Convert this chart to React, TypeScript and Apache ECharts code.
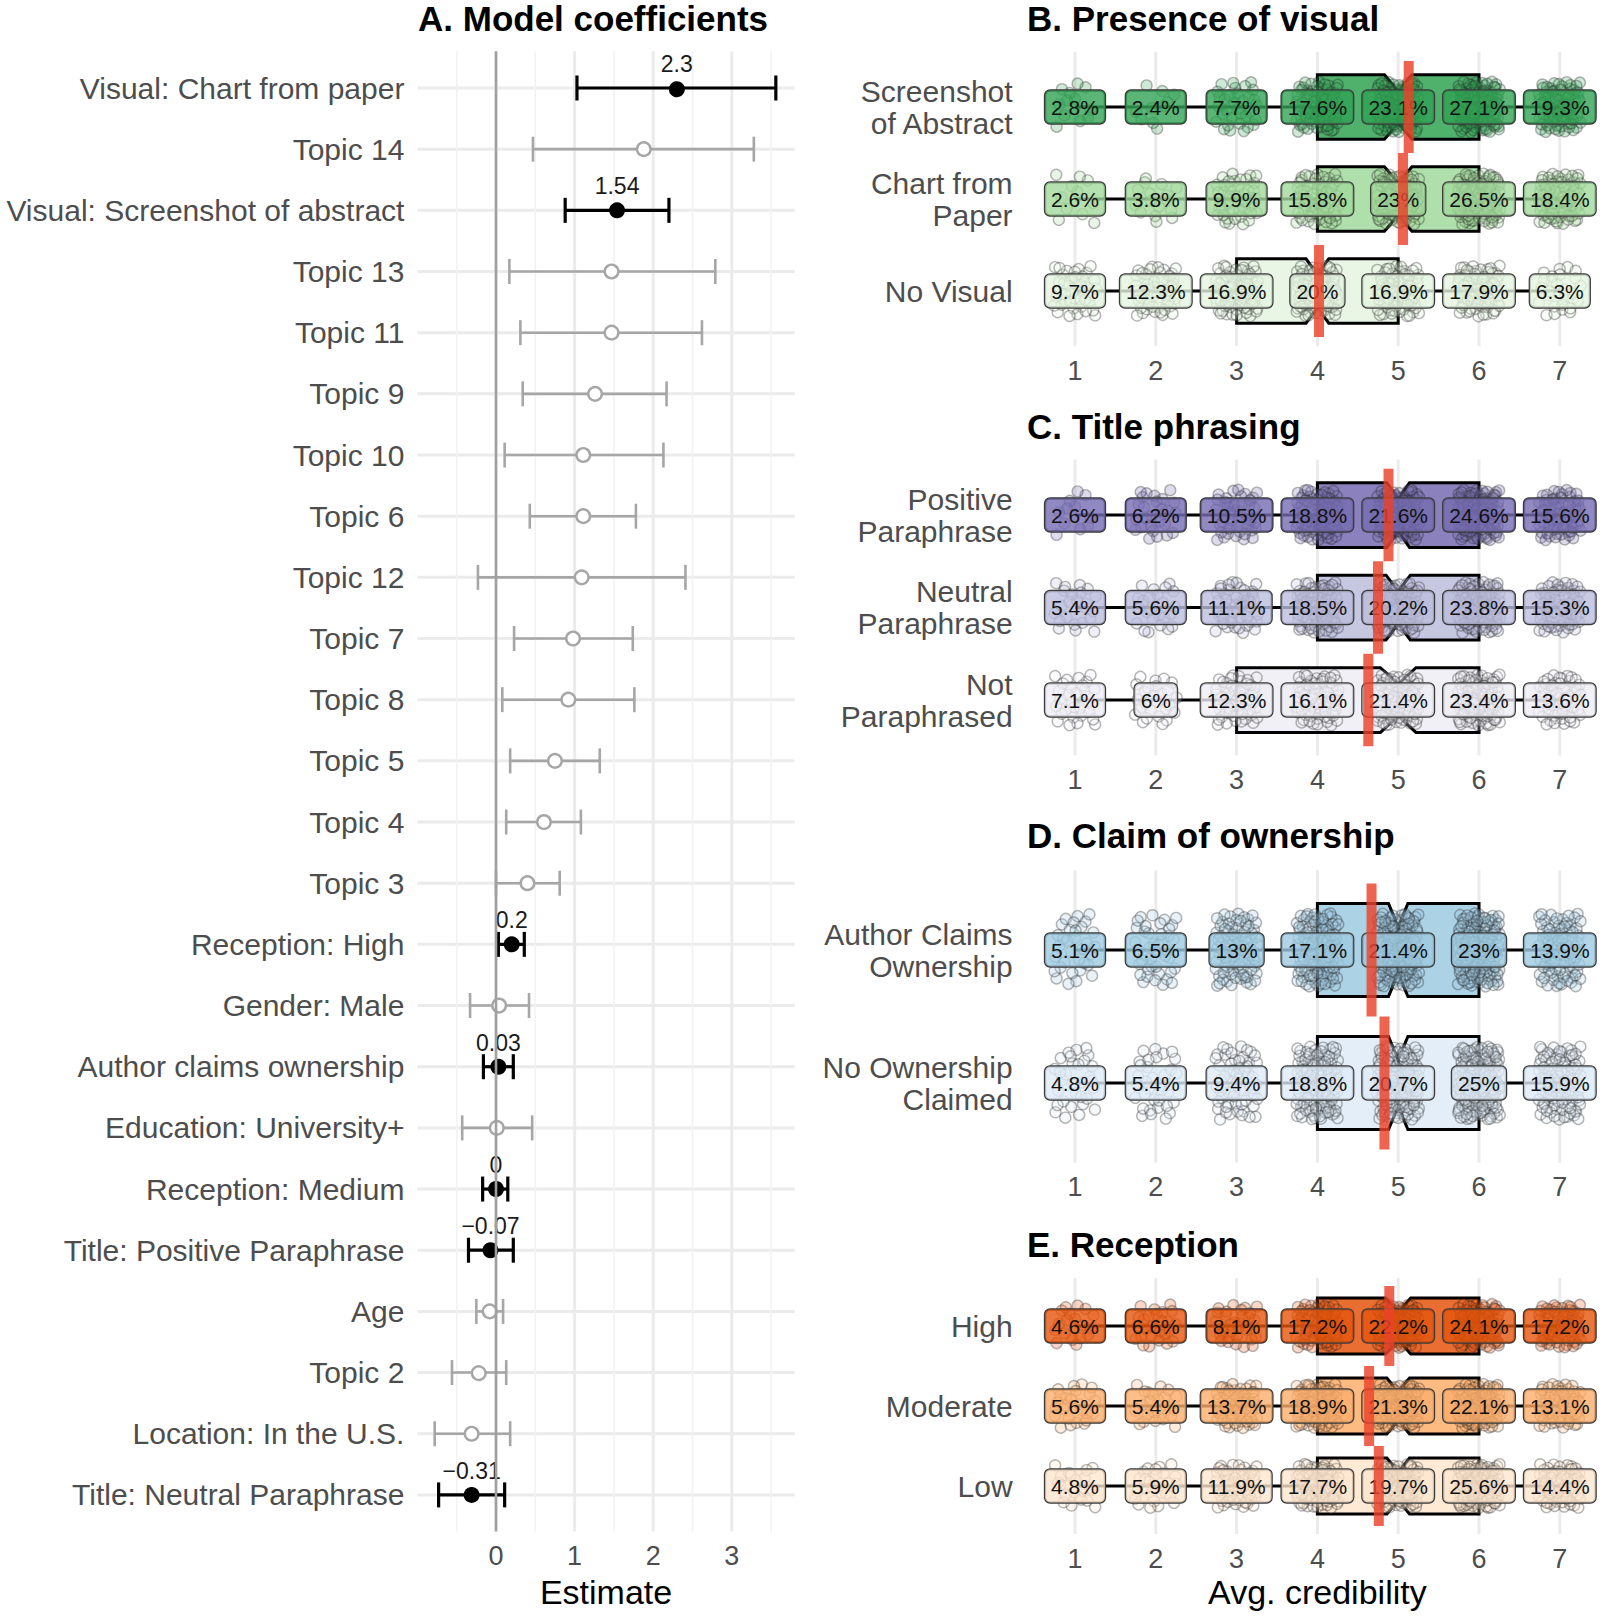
import React, { useEffect, useRef } from 'react';
import * as echarts from 'echarts';

const FONT = "'Liberation Sans', Arial, Helvetica, sans-serif";

// ---------- Panel A: model coefficients ----------
const coefLabels = [
  'Visual: Chart from paper', 'Topic 14', 'Visual: Screenshot of abstract', 'Topic 13', 'Topic 11',
  'Topic 9', 'Topic 10', 'Topic 6', 'Topic 12', 'Topic 7', 'Topic 8', 'Topic 5', 'Topic 4', 'Topic 3',
  'Reception: High', 'Gender: Male', 'Author claims ownership', 'Education: University+',
  'Reception: Medium', 'Title: Positive Paraphrase', 'Age', 'Topic 2', 'Location: In the U.S.',
  'Title: Neutral Paraphrase',
];
const coefEst = [2.3, 1.88, 1.54, 1.47, 1.47, 1.26, 1.11, 1.11, 1.09, 0.98, 0.92, 0.75, 0.61, 0.4, 0.2, 0.04, 0.03, 0.01, 0, -0.07, -0.08, -0.22, -0.31, -0.31];
const coefLow = [1.03, 0.47, 0.88, 0.17, 0.31, 0.34, 0.11, 0.43, -0.23, 0.23, 0.08, 0.18, 0.13, 0.0, 0.03, -0.33, -0.16, -0.43, -0.17, -0.35, -0.25, -0.56, -0.78, -0.73];
const coefHigh = [3.56, 3.28, 2.2, 2.79, 2.62, 2.17, 2.13, 1.78, 2.41, 1.74, 1.76, 1.32, 1.08, 0.81, 0.36, 0.42, 0.22, 0.46, 0.15, 0.22, 0.09, 0.13, 0.18, 0.11];
const coefValueText = ['2.3', '', '1.54', '', '', '', '', '', '', '', '', '', '', '', '0.2', '', '0.03', '', '0', '\u22120.07', '', '', '', '\u22120.31'];
const estMajorTicks = [0, 1, 2, 3];
const estMinorTicks = [-0.5, 0.5, 1.5, 2.5, 3.5];

// ---------- Right panels ----------
const credLevels = [1, 2, 3, 4, 5, 6, 7];
const whiskerLo = 1;
const whiskerHi = 7;

const visualGroups = ['Screenshot\nof Abstract', 'Chart from\nPaper', 'No Visual'];
const visualPct = [
  [2.8, 2.4, 7.7, 17.6, 23.1, 27.1, 19.3],
  [2.6, 3.8, 9.9, 15.8, 23, 26.5, 18.4],
  [9.7, 12.3, 16.9, 20, 16.9, 17.9, 6.3],
];
const visualQ1 = [4, 4, 3];
const visualMedian = [5, 5, 4];
const visualQ3 = [6, 6, 5];
const visualNotch = [0.17, 0.17, 0.14];
const visualMean = [5.13, 5.06, 4.02];
const visualN = [430, 430, 430];
const visualColors = ['#31a354', '#a1d99b', '#e5f5e0'];

const titleGroups = ['Positive\nParaphrase', 'Neutral\nParaphrase', 'Not\nParaphrased'];
const titlePct = [
  [2.6, 6.2, 10.5, 18.8, 21.6, 24.6, 15.6],
  [5.4, 5.6, 11.1, 18.5, 20.2, 23.8, 15.3],
  [7.1, 6, 12.3, 16.1, 21.4, 23.4, 13.6],
];
const titleQ1 = [4, 4, 3];
const titleMedian = [5, 5, 5];
const titleQ3 = [6, 6, 6];
const titleNotch = [0.14, 0.15, 0.22];
const titleMean = [4.88, 4.75, 4.63];
const titleN = [430, 430, 430];
const titleColors = ['#756bb1', '#bcbddc', '#efedf5'];

const ownGroups = ['Author Claims\nOwnership', 'No Ownership\nClaimed'];
const ownPct = [
  [5.1, 6.5, 13, 17.1, 21.4, 23, 13.9],
  [4.8, 5.4, 9.4, 18.8, 20.7, 25, 15.9],
];
const ownQ1 = [4, 4];
const ownMedian = [5, 5];
const ownQ3 = [6, 6];
const ownNotch = [0.12, 0.12];
const ownMean = [4.67, 4.83];
const ownN = [650, 650];
const ownColors = ['#9ecae1', '#deebf7'];

const recGroups = ['High', 'Moderate', 'Low'];
const recPct = [
  [4.6, 6.6, 8.1, 17.2, 22.2, 24.1, 17.2],
  [5.6, 5.4, 13.7, 18.9, 21.3, 22.1, 13.1],
  [4.8, 5.9, 11.9, 17.7, 19.7, 25.6, 14.4],
];
const recQ1 = [4, 4, 4];
const recMedian = [5, 5, 5];
const recQ3 = [6, 6, 6];
const recNotch = [0.155, 0.14, 0.14];
const recMean = [4.89, 4.64, 4.76];
const recN = [400, 450, 450];
const recColors = ['#e6550d', '#fdae6b', '#fee6ce'];

const panels = [
  { title: 'B. Presence of visual', titleY: 18, groups: visualGroups, pct: visualPct, q1: visualQ1, med: visualMedian, q3: visualQ3, notch: visualNotch, mean: visualMean, n: visualN, colors: visualColors, top: 51.8, step: 92 },
  { title: 'C. Title phrasing', titleY: 426, groups: titleGroups, pct: titlePct, q1: titleQ1, med: titleMedian, q3: titleQ3, notch: titleNotch, mean: titleMean, n: titleN, colors: titleColors, top: 459.5, step: 92.5 },
  { title: 'D. Claim of ownership', titleY: 835, groups: ownGroups, pct: ownPct, q1: ownQ1, med: ownMedian, q3: ownQ3, notch: ownNotch, mean: ownMean, n: ownN, colors: ownColors, top: 870.2, step: 133 },
  { title: 'E. Reception', titleY: 1244, groups: recGroups, pct: recPct, q1: recQ1, med: recMedian, q3: recQ3, notch: recNotch, mean: recMean, n: recN, colors: recColors, top: 1278, step: 80 },
];

const rgba = (hex: string, a: number) => {
  const n = parseInt(hex.slice(1), 16);
  return `rgba(${(n >> 16) & 255},${(n >> 8) & 255},${n & 255},${a})`;
};

const halton = (i: number, b: number) => {
  let f = 1, r = 0;
  while (i > 0) { f /= b; r += f * (i % b); i = Math.floor(i / b); }
  return r;
};

const isInt = (v: number) => Math.abs(v - Math.round(v)) < 1e-6;

function buildPoints(pn: any) {
  const pts: number[][] = [];
  let idx = 1;
  pn.pct.forEach((row: number[], g: number) => {
    row.forEach((p: number, k: number) => {
      const c = Math.round((p / 100) * pn.n[g]);
      for (let j = 0; j < c; j++) {
        pts.push([credLevels[k] + (halton(idx, 2) - 0.5) * 0.52, g + 1 + (halton(idx, 3) - 0.5) * 0.55, g]);
        idx++;
      }
    });
  });
  return pts;
}

function panelSeries(pn: any, gi: number) {
  const nG = pn.groups.length;
  const ymax = nG + 0.6;
  const base = { type: 'custom', coordinateSystem: 'cartesian2d', xAxisIndex: gi, yAxisIndex: gi, silent: true };
  const vgrid = {
    ...base, z: 1,
    data: credLevels.map((v) => [v, 1]),
    renderItem: (params: any, api: any) => {
      const v = credLevels[params.dataIndex];
      const a = api.coord([v, 0.4]);
      const b = api.coord([v, ymax]);
      return { type: 'line', shape: { x1: a[0], y1: a[1], x2: b[0], y2: b[1] }, style: { stroke: '#ebebeb', lineWidth: 3 } };
    },
  };
  const boxes = {
    ...base, z: 2,
    data: pn.groups.map((_: string, g: number) => [pn.med[g], g + 1]),
    renderItem: (params: any, api: any) => {
      const g = params.dataIndex;
      const yc = g + 1;
      const X = (v: number) => api.coord([v, yc])[0];
      const cy = api.coord([pn.med[g], yc])[1];
      const step = Math.abs(api.coord([1, yc + 0.5])[1] - api.coord([1, yc - 0.5])[1]);
      const half = step * 0.35;
      const ind = half * 0.5;
      const top = cy - half, bot = cy + half;
      const lo = X(pn.med[g] - pn.notch[g]), hi = X(pn.med[g] + pn.notch[g]), m = X(pn.med[g]);
      const x1 = X(pn.q1[g]), x3 = X(pn.q3[g]);
      return {
        type: 'group',
        children: [
          { type: 'line', shape: { x1: X(whiskerLo), y1: cy, x2: x1, y2: cy }, style: { stroke: '#000', lineWidth: 3 } },
          { type: 'line', shape: { x1: x3, y1: cy, x2: X(whiskerHi), y2: cy }, style: { stroke: '#000', lineWidth: 3 } },
          {
            type: 'polygon',
            shape: { points: [[x1, top], [lo, top], [m, top + ind], [hi, top], [x3, top], [x3, bot], [hi, bot], [m, bot - ind], [lo, bot], [x1, bot]] },
            style: { fill: rgba(pn.colors[g], 0.85), stroke: '#000', lineWidth: 3 },
          },
          { type: 'line', shape: { x1: m, y1: top + ind, x2: m, y2: bot - ind }, style: { stroke: '#000', lineWidth: 3 } },
        ],
      };
    },
  };
  const points = {
    type: 'scatter', xAxisIndex: gi, yAxisIndex: gi, silent: true, large: false, z: 3,
    symbol: 'circle', symbolSize: 11,
    data: buildPoints(pn),
    itemStyle: {
      color: (prm: any) => rgba(pn.colors[prm.value[2]], 0.3),
      borderColor: 'rgba(40,40,40,0.42)',
      borderWidth: 1.4,
    },
  };
  const labelData: number[][] = [];
  pn.pct.forEach((row: number[], g: number) => row.forEach((_: number, k: number) => labelData.push([credLevels[k], g + 1])));
  const labels = {
    ...base, z: 4,
    data: labelData,
    renderItem: (params: any, api: any) => {
      const d = labelData[params.dataIndex];
      const g = d[1] - 1;
      const k = d[0] - 1;
      const p = api.coord(d);
      return {
        type: 'text', x: p[0], y: p[1],
        style: {
          text: `${pn.pct[g][k]}%`, font: `21px ${FONT}`, fill: '#111', align: 'center', verticalAlign: 'middle',
          backgroundColor: rgba(pn.colors[g], 0.8), borderColor: '#3a3a3a', borderWidth: 1.2, borderRadius: 5,
          padding: [5, 6, 5, 6], lineHeight: 23,
        },
      };
    },
  };
  const means = {
    ...base, z: 5,
    data: pn.mean.map((m: number, g: number) => [m, g + 1]),
    renderItem: (params: any, api: any) => {
      const g = params.dataIndex;
      const c = api.coord([pn.mean[g], g + 1]);
      const h = Math.abs(api.coord([1, g + 1.5])[1] - api.coord([1, g + 0.5])[1]);
      return { type: 'rect', shape: { x: c[0] - 5, y: c[1] - h / 2, width: 10, height: h }, style: { fill: 'rgba(236,66,42,0.82)' } };
    },
  };
  return [vgrid, boxes, points, labels, means];
}

function buildOption() {
  const A_LEFT = 417.4, A_W = 377.3, A_TOP = 51.3, A_H = 1480.3;
  const R_LEFT = 1034.6, R_W = 565.6;
  const grids: any[] = [{ left: A_LEFT, top: A_TOP, width: A_W, height: A_H, outerBoundsMode: 'none' }];
  panels.forEach((pn) => grids.push({ left: R_LEFT, top: pn.top, width: R_W, height: pn.step * (pn.groups.length + 0.2), outerBoundsMode: 'none' }));

  const noLines = { axisLine: { show: false }, axisTick: { show: false }, splitLine: { show: false } };
  const xAxes: any[] = [{
    gridIndex: 0, type: 'value', min: -1, max: 3.8, interval: 1, ...noLines,
    axisLabel: { formatter: (v: number) => (isInt(v) && v >= 0 && v <= 3 ? String(Math.round(v)) : ''), fontSize: 27, color: '#4d4d4d', margin: 11, fontFamily: FONT },
    name: 'Estimate', nameLocation: 'middle', nameGap: 43, nameTextStyle: { fontSize: 34, color: '#000', fontFamily: FONT },
  }];
  const yAxes: any[] = [{
    gridIndex: 0, type: 'value', inverse: true, min: 0.4, max: 24.6, interval: 0.2, ...noLines,
    axisLabel: {
      formatter: (v: number) => { const i = Math.round(v); return isInt(v) && i >= 1 && i <= coefLabels.length ? coefLabels[i - 1] : ''; },
      fontSize: 30, color: '#4d4d4d', margin: 13, fontFamily: FONT,
    },
  }];
  panels.forEach((pn, p) => {
    const last = p === panels.length - 1;
    xAxes.push({
      gridIndex: p + 1, type: 'value', min: 0.5, max: 7.5, interval: 0.5, ...noLines,
      axisLabel: { formatter: (v: number) => (isInt(v) && v >= 1 && v <= 7 ? String(Math.round(v)) : ''), fontSize: 27, color: '#4d4d4d', margin: 11, fontFamily: FONT },
      ...(last ? { name: 'Avg. credibility', nameLocation: 'middle', nameGap: 41, nameTextStyle: { fontSize: 34, color: '#000', fontFamily: FONT } } : {}),
    });
    yAxes.push({
      gridIndex: p + 1, type: 'value', inverse: true, min: 0.4, max: pn.groups.length + 0.6, interval: 0.2, ...noLines,
      axisLabel: {
        formatter: (v: number) => { const i = Math.round(v); return isInt(v) && i >= 1 && i <= pn.groups.length ? pn.groups[i - 1] : ''; },
        fontSize: 30, color: '#4d4d4d', margin: 22, lineHeight: 32, fontFamily: FONT,
      },
    });
  });

  const aBase = { type: 'custom', coordinateSystem: 'cartesian2d', xAxisIndex: 0, yAxisIndex: 0, silent: true };
  const aHGrid = {
    ...aBase, z: 1,
    data: coefLabels.map((_, i) => [0, i + 1]),
    renderItem: (params: any, api: any) => {
      const y = params.dataIndex + 1;
      const a = api.coord([-1, y]);
      const b = api.coord([3.8, y]);
      return { type: 'line', shape: { x1: a[0], y1: a[1], x2: b[0], y2: b[1] }, style: { stroke: '#ebebeb', lineWidth: 3 } };
    },
  };
  const aTicks = [...estMajorTicks, ...estMinorTicks];
  const aVGrid = {
    ...aBase, z: 1,
    data: aTicks.map((v) => [v, 1]),
    renderItem: (params: any, api: any) => {
      const v = aTicks[params.dataIndex];
      const a = api.coord([v, 0.4]);
      const b = api.coord([v, 24.6]);
      const major = isInt(v);
      return { type: 'line', shape: { x1: a[0], y1: a[1], x2: b[0], y2: b[1] }, style: { stroke: major ? '#ebebeb' : '#f2f2f2', lineWidth: major ? 3 : 1.6 } };
    },
  };
  const aBars = {
    ...aBase, z: 3,
    data: coefEst.map((e, i) => [e, i + 1]),
    renderItem: (params: any, api: any) => {
      const i = params.dataIndex;
      const y = i + 1;
      const sig = coefValueText[i] !== '';
      const pl = api.coord([coefLow[i], y]);
      const ph = api.coord([coefHigh[i], y]);
      const pe = api.coord([coefEst[i], y]);
      const col = sig ? '#000' : '#a6a6a6';
      const lw = sig ? 3.2 : 2.6;
      const cap = 12.5;
      const children: any[] = [
        { type: 'line', shape: { x1: pl[0], y1: pl[1], x2: ph[0], y2: ph[1] }, style: { stroke: col, lineWidth: lw } },
        { type: 'line', shape: { x1: pl[0], y1: pl[1] - cap, x2: pl[0], y2: pl[1] + cap }, style: { stroke: col, lineWidth: lw } },
        { type: 'line', shape: { x1: ph[0], y1: ph[1] - cap, x2: ph[0], y2: ph[1] + cap }, style: { stroke: col, lineWidth: lw } },
        sig
          ? { type: 'circle', shape: { cx: pe[0], cy: pe[1], r: 8 }, style: { fill: '#000' } }
          : { type: 'circle', shape: { cx: pe[0], cy: pe[1], r: 6.8 }, style: { fill: '#fff', stroke: col, lineWidth: 2.4 } },
      ];
      if (sig) {
        children.push({ type: 'text', x: pe[0], y: pe[1] - 24, style: { text: coefValueText[i], font: `23px ${FONT}`, fill: '#1a1a1a', align: 'center', verticalAlign: 'middle' } });
      }
      return { type: 'group', children };
    },
  };
  const aZero = {
    ...aBase, z: 6,
    data: [[0, 1]],
    renderItem: (_params: any, api: any) => {
      const a = api.coord([0, 0.4]);
      const b = api.coord([0, 24.6]);
      return { type: 'line', shape: { x1: a[0], y1: a[1], x2: b[0], y2: b[1] }, style: { stroke: '#a0a0a0', lineWidth: 2.6 } };
    },
  };

  const series: any[] = [aHGrid, aVGrid, aBars, aZero];
  panels.forEach((pn, p) => series.push(...panelSeries(pn, p + 1)));

  const titleFont = `bold 35px ${FONT}`;
  const graphic: any[] = [
    { type: 'text', x: 418, y: 18, style: { text: 'A. Model coefficients', font: titleFont, fill: '#000', verticalAlign: 'middle' } },
    ...panels.map((pn) => ({ type: 'text', x: 1027, y: pn.titleY, style: { text: pn.title, font: titleFont, fill: '#000', verticalAlign: 'middle' } })),
  ];

  return {
    animation: false,
    backgroundColor: '#ffffff',
    textStyle: { fontFamily: FONT },
    grid: grids,
    xAxis: xAxes,
    yAxis: yAxes,
    series,
    graphic,
  };
}

export default function App() {
  const ref = useRef<HTMLDivElement>(null);
  useEffect(() => {
    document.body.style.margin = '0';
    const chart = echarts.init(ref.current as HTMLDivElement, null, { renderer: 'svg' });
    chart.setOption(buildOption() as any);
    return () => chart.dispose();
  }, []);
  return <div ref={ref} style={{ width: 1603, height: 1616 }} />;
}
